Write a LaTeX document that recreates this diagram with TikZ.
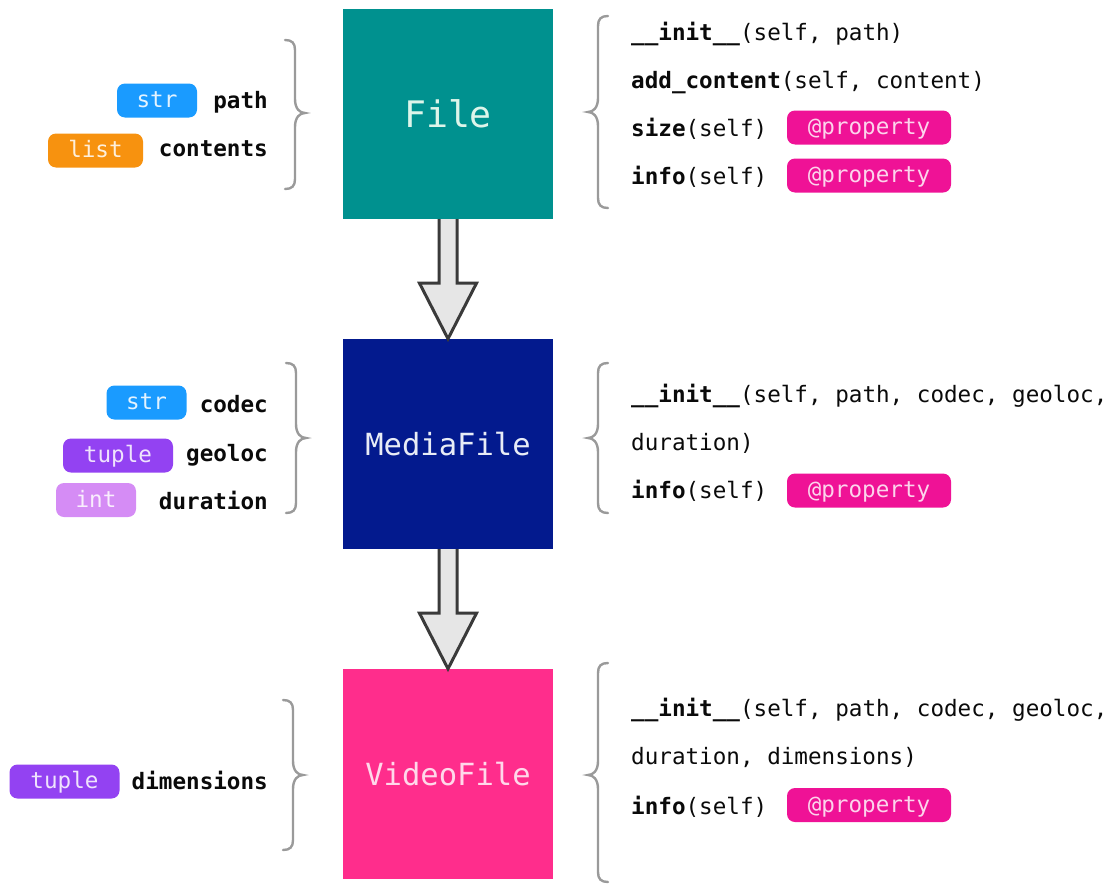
\documentclass[tikz,border=0pt]{standalone}
\usepackage{fontspec}
\setmonofont{DejaVu Sans Mono}
\usetikzlibrary{calc}
\definecolor{tealbox}{HTML}{00918F}
\definecolor{navybox}{HTML}{031A8E}
\definecolor{pinkbox}{HTML}{FF2D8C}
\definecolor{filetext}{HTML}{DDF5EA}
\definecolor{mediatext}{HTML}{E8ECF6}
\definecolor{videotext}{HTML}{FFD8EA}
\definecolor{strblue}{HTML}{1A9BFF}
\definecolor{listorange}{HTML}{F7920F}
\definecolor{tuplepurple}{HTML}{9342F2}
\definecolor{intlilac}{HTML}{D58CF5}
\definecolor{proppink}{HTML}{EF1296}
\definecolor{bracegray}{HTML}{9A9A9A}
\definecolor{arrowline}{HTML}{3A3A3A}
\definecolor{arrowfill}{HTML}{E6E6E6}
\definecolor{txt}{HTML}{0A0A0A}
\newcommand{\closebrace}[4]{% body x, top y, bottom y, tip y
  \draw[bracestyle] (#1-10,#2) .. controls (#1-3,#2) and (#1,#2+3) .. (#1,#2+10)
    -- (#1,#4-14) .. controls (#1,#4-4) and (#1+5,#4) .. (#1+10,#4)
    .. controls (#1+5,#4) and (#1,#4+4) .. (#1,#4+14)
    -- (#1,#3-10) .. controls (#1,#3-3) and (#1-3,#3) .. (#1-10,#3);}
\newcommand{\openbrace}[4]{% body x, top y, bottom y, tip y
  \draw[bracestyle] (#1+10,#2) .. controls (#1+3,#2) and (#1,#2+3) .. (#1,#2+10)
    -- (#1,#4-14) .. controls (#1,#4-4) and (#1-5,#4) .. (#1-10,#4)
    .. controls (#1-5,#4) and (#1,#4+4) .. (#1,#4+14)
    -- (#1,#3-10) .. controls (#1,#3-3) and (#1+3,#3) .. (#1+10,#3);}
\begin{document}
\begin{tikzpicture}[x=1pt,y=-1pt,
  cls/.style={minimum width=210, minimum height=210, inner sep=0pt, font=\ttfamily\fontsize{30.5}{34}\selectfont},
  badge/.style={fill=#1, rounded corners=8pt, minimum height=34, inner sep=0pt,
    text height=14pt, text depth=0pt, font=\ttfamily\fontsize{22.6}{26}\selectfont},
  attr/.style={anchor=base east, yshift=-8pt, inner sep=0pt, text=txt, font=\ttfamily\bfseries\fontsize{22.6}{26}\selectfont},
  meth/.style={anchor=base west, yshift=-8pt, inner sep=0pt, text=txt, font=\ttfamily\fontsize{22.6}{26}\selectfont},
  blockarrow/.style={draw=arrowline, fill=arrowfill, line width=3pt, line join=miter},
  bracestyle/.style={draw=bracegray, line width=2.4pt, line cap=round}]
\useasboundingbox (0,0) rectangle (1113,886);

% class boxes
\node[cls, fill=tealbox, text=filetext, font=\ttfamily\fontsize{36.5}{40}\selectfont] (file) at (448,114) {File};
\node[cls, fill=navybox, text=mediatext] (media) at (448,444) {MediaFile};
\node[cls, fill=pinkbox, text=videotext] (video) at (448,774) {VideoFile};

% inheritance arrows
\filldraw[blockarrow] ($(file.south)+(-9,0)$) -- ($(file.south)+(-9,64)$) -- ($(file.south)+(-28.5,64)$)
  -- (media.north) -- ($(file.south)+(28.5,64)$) -- ($(file.south)+(9,64)$) -- ($(file.south)+(9,0)$);
\filldraw[blockarrow] ($(media.south)+(-9,0)$) -- ($(media.south)+(-9,64)$) -- ($(media.south)+(-28.5,64)$)
  -- (video.north) -- ($(media.south)+(28.5,64)$) -- ($(media.south)+(9,64)$) -- ($(media.south)+(9,0)$);

% braces
\closebrace{295}{40}{189}{113}
\closebrace{296}{363}{513}{438}
\closebrace{293}{700}{850}{775}
\openbrace{598}{16}{208}{112}
\openbrace{598}{363}{513}{438}
\openbrace{598}{663}{882}{775}

% File attributes
\node[badge=strblue, text=white!88!strblue, minimum width=80] (b1) at (157,100.5) {str};
\node[attr] (a1) at (268,100) {path};
\node[badge=listorange, text=white!85!listorange, minimum width=95] (b2) at (95.5,150.5) {list};
\node[attr] (a2) at (268,148) {contents};

% MediaFile attributes
\node[badge=strblue, text=white!88!strblue, minimum width=80] (b3) at (146.5,402.5) {str};
\node[attr] (a3) at (268,404) {codec};
\node[badge=tuplepurple, text=white!85!tuplepurple, minimum width=110] (b4) at (118,455.5) {tuple};
\node[attr] (a4) at (268,453) {geoloc};
\node[badge=intlilac, text=white!85!intlilac, minimum width=80] (b5) at (96,500) {int};
\node[attr] (a5) at (268,501) {duration};

% VideoFile attributes
\node[badge=tuplepurple, text=white!85!tuplepurple, minimum width=110] (b6) at (64.5,781.5) {tuple};
\node[attr] (a6) at (268,781) {dimensions};

% File methods
\node[meth] (m1) at (631,32) {{\bfseries \_\_init\_\_}(self, path)};
\node[meth] (m2) at (631,80) {{\bfseries add\_content}(self, content)};
\node[meth] (m3) at (631,128) {{\bfseries size}(self)};
\node[badge=proppink, text=white!82!proppink, minimum width=164] (p1) at (869,127.5) {@property};
\node[meth] (m4) at (631,176) {{\bfseries info}(self)};
\node[badge=proppink, text=white!82!proppink, minimum width=164] (p2) at (869,175.5) {@property};

% MediaFile methods
\node[meth] (m5) at (631,394) {{\bfseries \_\_init\_\_}(self, path, codec, geoloc,};
\node[meth] (m6) at (631,442) {duration)};
\node[meth] (m7) at (631,490) {{\bfseries info}(self)};
\node[badge=proppink, text=white!82!proppink, minimum width=164] (p3) at (869,490.5) {@property};

% VideoFile methods
\node[meth] (m8) at (631,708) {{\bfseries \_\_init\_\_}(self, path, codec, geoloc,};
\node[meth] (m9) at (631,756) {duration, dimensions)};
\node[meth] (m10) at (631,806) {{\bfseries info}(self)};
\node[badge=proppink, text=white!82!proppink, minimum width=164] (p4) at (869,805) {@property};
\end{tikzpicture}
\end{document}
